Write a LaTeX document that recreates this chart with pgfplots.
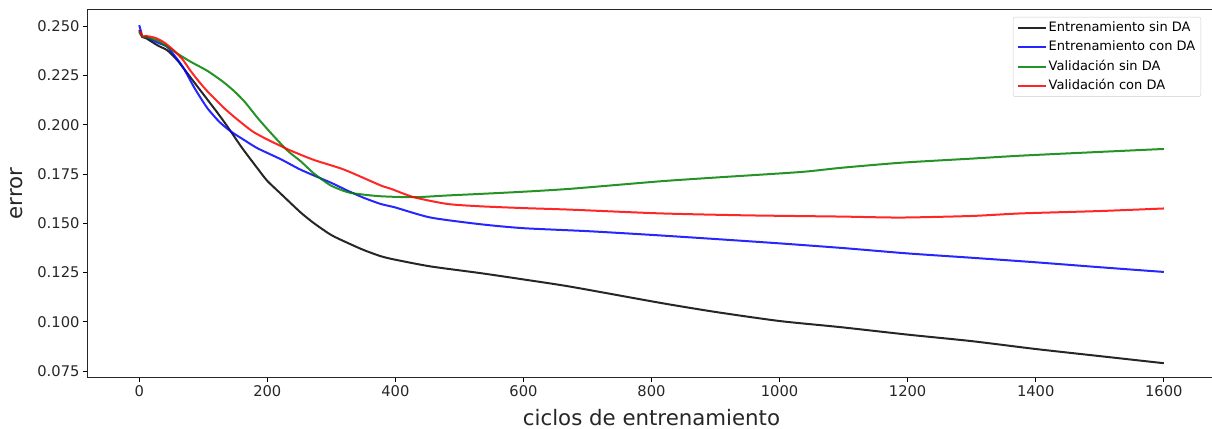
\documentclass[border=0pt]{standalone}
\usepackage{fontspec}
\setmainfont{DejaVu Sans}
\usepackage{pgfplots}
\pgfplotsset{compat=1.18}
\definecolor{mblack}{rgb}{0,0,0}
\definecolor{mblue}{rgb}{0,0,1}
\definecolor{mgreen}{rgb}{0,0.5,0}
\definecolor{mred}{rgb}{1,0,0}
\begin{document}
\begin{tikzpicture}
\useasboundingbox (-88bp,-52bp) rectangle (1124bp,377bp);
\begin{axis}[
  scale only axis,
  width=1127bp, height=367bp,
  xmin=-80, xmax=1680,
  ymin=0.0720, ymax=0.2582,
  xtick={0,200,...,1600},
  ytick={0.075,0.100,0.125,0.150,0.175,0.200,0.225,0.250},
  xticklabel style={/pgf/number format/.cd,set thousands separator={}},
  yticklabel style={/pgf/number format/.cd,fixed,fixed zerofill,precision=3},
  /pgf/number format/assume math mode=true,
  scaled y ticks=false,
  tick align=outside,
  major tick length=5bp,
  tick style={black, line width=0.8bp},
  xtick pos=bottom, ytick pos=left,
  axis line style={line width=1bp, black!85},
  ticklabel style={font=\fontsize{14.7bp}{17bp}\selectfont, text=black!85},
  xlabel={ciclos de entrenamiento},
  ylabel={error},
  label style={font=\fontsize{21.3bp}{25bp}\selectfont, text=black!85},
  xlabel style={at={(axis description cs:0.5,0)}, anchor=base, yshift=-48bp},
  ylabel style={at={(axis description cs:0,0.5)}, anchor=center, rotate=0, yshift=71bp},
  legend cell align=left,
  legend image code/.code={\draw[#1, line width=2bp] (0bp,0bp) -- (28bp,0bp);},
  legend style={
    at={(rel axis cs:1,1)}, anchor=north east, xshift=-14bp, yshift=-7bp,
    font=\fontsize{13bp}{15bp}\selectfont,
    draw=black!20, rounded corners=2bp, fill=white, fill opacity=0.8, text opacity=1,
    row sep=4.5bp, inner xsep=4bp, inner ysep=3bp,
    nodes={inner sep=1.5bp, text height=9.5bp, text depth=2.5bp},
  },
  every axis plot/.append style={smooth, tension=0.4, opacity=0.85},
]
\addplot[mblack, line width=2bp] coordinates {
(0,0.248) (5,0.2445) (10,0.244) (20,0.242) (30,0.240) (44,0.2377) (60,0.2325)
(80,0.224) (100,0.2155) (120,0.207) (132,0.2017) (143,0.1966) (160,0.1885)
(185,0.1777) (200,0.1715) (221,0.1650) (252,0.1555) (273,0.1500) (300,0.1440)
(325,0.1401) (350,0.1365) (377,0.1333) (400,0.1315) (455,0.1281) (533,0.1247)
(600,0.1215) (674,0.1178) (814,0.1096) (900,0.1050) (1000,0.1004) (1095,0.0973)
(1200,0.0935) (1300,0.0902) (1400,0.0862) (1500,0.0826) (1600,0.0790)
};
\addlegendentry{Entrenamiento sin DA}
\addplot[mblue, line width=2bp] coordinates {
(0,0.2505) (3,0.247) (5,0.2445) (10,0.2445) (20,0.243) (30,0.2415) (44,0.2394)
(60,0.2330) (70,0.2283) (86,0.2188) (106,0.2086) (125,0.2015) (143,0.1966)
(165,0.1920) (185,0.1880) (221,0.1825) (250,0.1775) (273,0.1742) (300,0.1705)
(325,0.1666) (350,0.1630) (377,0.1598) (400,0.1580) (455,0.1529) (533,0.1495)
(600,0.1475) (700,0.1460) (800,0.1441) (900,0.1420) (1000,0.1398) (1100,0.1374)
(1200,0.1347) (1300,0.1325) (1400,0.1302) (1500,0.1277) (1600,0.1253)
};
\addlegendentry{Entrenamiento con DA}
\addplot[mgreen, line width=2bp] coordinates {
(0,0.247) (5,0.2445) (10,0.2445) (20,0.2435) (28,0.2428) (44,0.2395) (60,0.2360)
(80,0.2320) (106,0.2274) (130,0.2220) (148,0.2171) (165,0.2115) (185,0.2034)
(205,0.1960) (231,0.1870) (252,0.1815) (273,0.1752) (299,0.1692) (325,0.1658)
(346,0.1647) (377,0.1637) (429,0.1632) (481,0.1641) (533,0.1649) (600,0.1660)
(674,0.1675) (814,0.1713) (900,0.1732) (1033,0.1760) (1095,0.1781) (1189,0.1807)
(1300,0.1828) (1377,0.1843) (1500,0.1862) (1600,0.1877)
};
\addlegendentry{Validación sin DA}
\addplot[mred, line width=2bp] coordinates {
(0,0.2475) (2,0.247) (5,0.2448) (10,0.2450) (20,0.2445) (28,0.2437) (40,0.2415)
(54,0.2377) (68,0.2330) (80,0.2274) (93,0.2220) (106,0.2171) (120,0.2125)
(132,0.2086) (150,0.2035) (177,0.1966) (200,0.1925) (221,0.1892) (237,0.1868)
(273,0.1821) (320,0.1772) (377,0.1692) (393,0.1675) (429,0.1632) (481,0.1598)
(533,0.1586) (600,0.1577) (674,0.1569) (814,0.1550) (950,0.1540) (1095,0.1534)
(1189,0.1529) (1300,0.1537) (1377,0.1550) (1500,0.1562) (1600,0.1575)
};
\addlegendentry{Validación con DA}
\end{axis}
\end{tikzpicture}
\end{document}
